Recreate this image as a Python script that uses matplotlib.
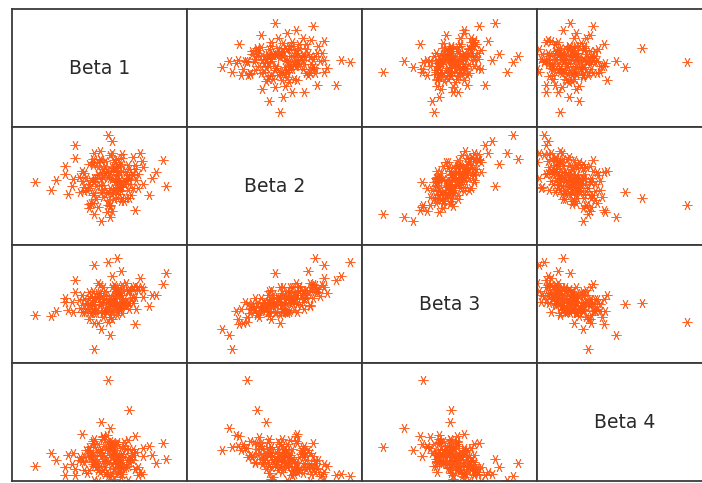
import matplotlib
matplotlib.use("Agg")
import matplotlib.pyplot as plt

names = ["Beta 1", "Beta 2", "Beta 3", "Beta 4"]

# values, scaled to each panel's range (0..1)
beta1 = [0.60, 0.44, 0.70, 0.52, 0.66, 0.46, 0.55, 0.47, 0.65, 0.56,
         0.41, 0.63, 0.65, 0.49, 0.61, 0.49, 0.74, 0.57, 0.39, 0.56,
         0.62, 0.57, 0.52, 0.49, 0.67, 0.61, 0.44, 0.69, 0.45, 0.60,
         0.58, 0.58, 0.47, 0.67, 0.56, 0.57, 0.53, 0.47, 0.69, 0.61,
         0.67, 0.44, 0.48, 0.60, 0.46, 0.63, 0.71, 0.54, 0.50, 0.64,
         0.63, 0.60, 0.42, 0.59, 0.52, 0.56, 0.46, 0.61, 0.69, 0.46,
         0.63, 0.41, 0.55, 0.59, 0.62, 0.52, 0.41, 0.66, 0.64, 0.47,
         0.60, 0.52, 0.58, 0.56, 0.51, 0.69, 0.54, 0.59, 0.44, 0.50,
         0.58, 0.35, 0.72, 0.48, 0.53, 0.62, 0.38, 0.75, 0.57, 0.52,
         0.45, 0.64, 0.59, 0.43, 0.66, 0.54, 0.61, 0.50, 0.40, 0.68,
         0.56, 0.62, 0.48, 0.57, 0.34, 0.60, 0.53, 0.63, 0.46, 0.58,
         0.51, 0.70, 0.55, 0.49, 0.64, 0.57, 0.44, 0.61, 0.53, 0.66,
         0.13, 0.88, 0.55, 0.55, 0.47, 0.51, 0.86, 0.67, 0.60, 0.47,
         0.36, 0.36, 0.73, 0.80, 0.75, 0.56, 0.51, 0.30, 0.32, 0.62,
         0.70, 0.49, 0.30, 0.78, 0.25, 0.72, 0.40, 0.82, 0.57, 0.22]
beta2 = [0.55, 0.48, 0.64, 0.58, 0.47, 0.68, 0.38, 0.53, 0.62, 0.57,
         0.46, 0.74, 0.40, 0.66, 0.54, 0.32, 0.71, 0.56, 0.45, 0.62,
         0.50, 0.78, 0.41, 0.60, 0.52, 0.67, 0.35, 0.60, 0.55, 0.46,
         0.72, 0.39, 0.57, 0.64, 0.48, 0.29, 0.61, 0.54, 0.75, 0.43,
         0.56, 0.69, 0.50, 0.59, 0.36, 0.63, 0.55, 0.44, 0.73, 0.52,
         0.40, 0.66, 0.57, 0.47, 0.62, 0.33, 0.70, 0.51, 0.59, 0.42,
         0.77, 0.49, 0.58, 0.65, 0.37, 0.47, 0.61, 0.68, 0.54, 0.44,
         0.60, 0.51, 0.65, 0.34, 0.72, 0.48, 0.63, 0.53, 0.31, 0.80,
         0.45, 0.56, 0.60, 0.39, 0.67, 0.49, 0.58, 0.52, 0.43, 0.64,
         0.36, 0.55, 0.70, 0.47, 0.59, 0.28, 0.62, 0.51, 0.54, 0.42,
         0.76, 0.46, 0.57, 0.66, 0.50, 0.40, 0.61, 0.53, 0.73, 0.48,
         0.56, 0.68, 0.45, 0.59, 0.37, 0.63, 0.52, 0.49, 0.71, 0.57,
         0.53, 0.50, 0.93, 0.34, 0.26, 0.20, 0.72, 0.40, 0.73, 0.78,
         0.85, 0.74, 0.78, 0.57, 0.66, 0.24, 0.45, 0.67, 0.43, 0.69,
         0.30, 0.70, 0.60, 0.42, 0.55, 0.48, 0.63, 0.62, 0.88, 0.47]
beta3 = [0.64, 0.37, 0.65, 0.43, 0.61, 0.55, 0.45, 0.34, 0.68, 0.54,
         0.43, 0.63, 0.48, 0.59, 0.59, 0.34, 0.64, 0.43, 0.47, 0.54,
         0.49, 0.64, 0.39, 0.56, 0.51, 0.46, 0.50, 0.51, 0.57, 0.44,
         0.66, 0.55, 0.42, 0.61, 0.51, 0.37, 0.45, 0.50, 0.63, 0.48,
         0.46, 0.60, 0.42, 0.60, 0.46, 0.50, 0.46, 0.51, 0.66, 0.54,
         0.42, 0.59, 0.44, 0.52, 0.54, 0.52, 0.49, 0.50, 0.64, 0.44,
         0.66, 0.49, 0.52, 0.49, 0.47, 0.44, 0.54, 0.62, 0.50, 0.52,
         0.57, 0.43, 0.58, 0.39, 0.55, 0.56, 0.43, 0.64, 0.46, 0.59,
         0.51, 0.43, 0.64, 0.45, 0.54, 0.58, 0.53, 0.56, 0.45, 0.64,
         0.42, 0.49, 0.48, 0.51, 0.51, 0.44, 0.61, 0.49, 0.43, 0.55,
         0.57, 0.58, 0.56, 0.52, 0.52, 0.41, 0.58, 0.55, 0.61, 0.52,
         0.52, 0.56, 0.47, 0.57, 0.51, 0.50, 0.55, 0.48, 0.61, 0.61,
         0.41, 0.76, 0.86, 0.35, 0.12, 0.29, 0.67, 0.51, 0.89, 0.83,
         0.70, 0.60, 0.72, 0.58, 0.62, 0.24, 0.50, 0.55, 0.45, 0.78,
         0.33, 0.68, 0.52, 0.48, 0.44, 0.62, 0.58, 0.58, 0.74, 0.40]
beta4 = [0.16, 0.29, 0.10, 0.22, 0.13, 0.22, 0.33, 0.21, 0.12, 0.31,
         0.16, 0.11, 0.27, 0.25, 0.08, 0.31, 0.06, 0.22, 0.20, 0.34,
         0.14, 0.14, 0.37, 0.09, 0.27, 0.15, 0.20, 0.27, 0.20, 0.33,
         0.11, 0.16, 0.13, 0.20, 0.29, 0.30, 0.17, 0.36, 0.18, 0.14,
         0.16, 0.26, 0.19, 0.20, 0.34, 0.11, 0.25, 0.18, 0.08, 0.33,
         0.23, 0.07, 0.26, 0.22, 0.38, 0.28, 0.14, 0.12, 0.22, 0.32,
         0.06, 0.21, 0.15, 0.23, 0.21, 0.36, 0.09, 0.18, 0.30, 0.16,
         0.19, 0.17, 0.26, 0.28, 0.21, 0.24, 0.08, 0.31, 0.26, 0.13,
         0.10, 0.24, 0.05, 0.15, 0.30, 0.03, 0.18, 0.21, 0.27, 0.09,
         0.22, 0.11, 0.24, 0.07, 0.35, 0.39, 0.16, 0.25, 0.17, 0.19,
         0.04, 0.28, 0.12, 0.20, 0.14, 0.31, 0.06, 0.23, 0.17, 0.02,
         0.27, 0.10, 0.24, 0.13, 0.20, 0.32, 0.09, 0.18, 0.12, 0.01,
         0.13, 0.19, 0.04, 0.86, 0.29, 0.26, 0.32, 0.60, 0.15, 0.01,
         0.05, 0.10, 0.08, 0.22, 0.28, 0.45, 0.50, 0.12, 0.22, 0.12,
         0.38, 0.00, 0.05, 0.30, 0.18, 0.12, 0.40, 0.15, 0.06, 0.24]

data = [beta1, beta2, beta3, beta4]

fig = plt.figure(figsize=(7.02, 4.83), dpi=100)
W, H = 702.0, 483.0
left, top = 12, 9
pw, ph = 175, 118

for i in range(4):
    for j in range(4):
        x0 = left + j * pw
        y0 = top + i * ph
        ax = fig.add_axes([x0 / W, 1 - (y0 + ph) / H, pw / W, ph / H])
        ax.set_xlim(0, 1)
        ax.set_ylim(0, 1)
        ax.set_xticks([])
        ax.set_yticks([])
        for s in ax.spines.values():
            s.set_color("#3a3a3a")
            s.set_linewidth(1.3)
        if i == j:
            ax.text(0.5, 0.5, names[i], ha="center", va="center",
                    fontsize=13.5, color="#2a2a2a", family="DejaVu Sans")
        else:
            ax.scatter(data[j], data[i], marker=(6, 2, 90), s=45,
                       color="#ff5511", linewidths=0.6, alpha=0.9)

fig.savefig("out.png", dpi=100)
